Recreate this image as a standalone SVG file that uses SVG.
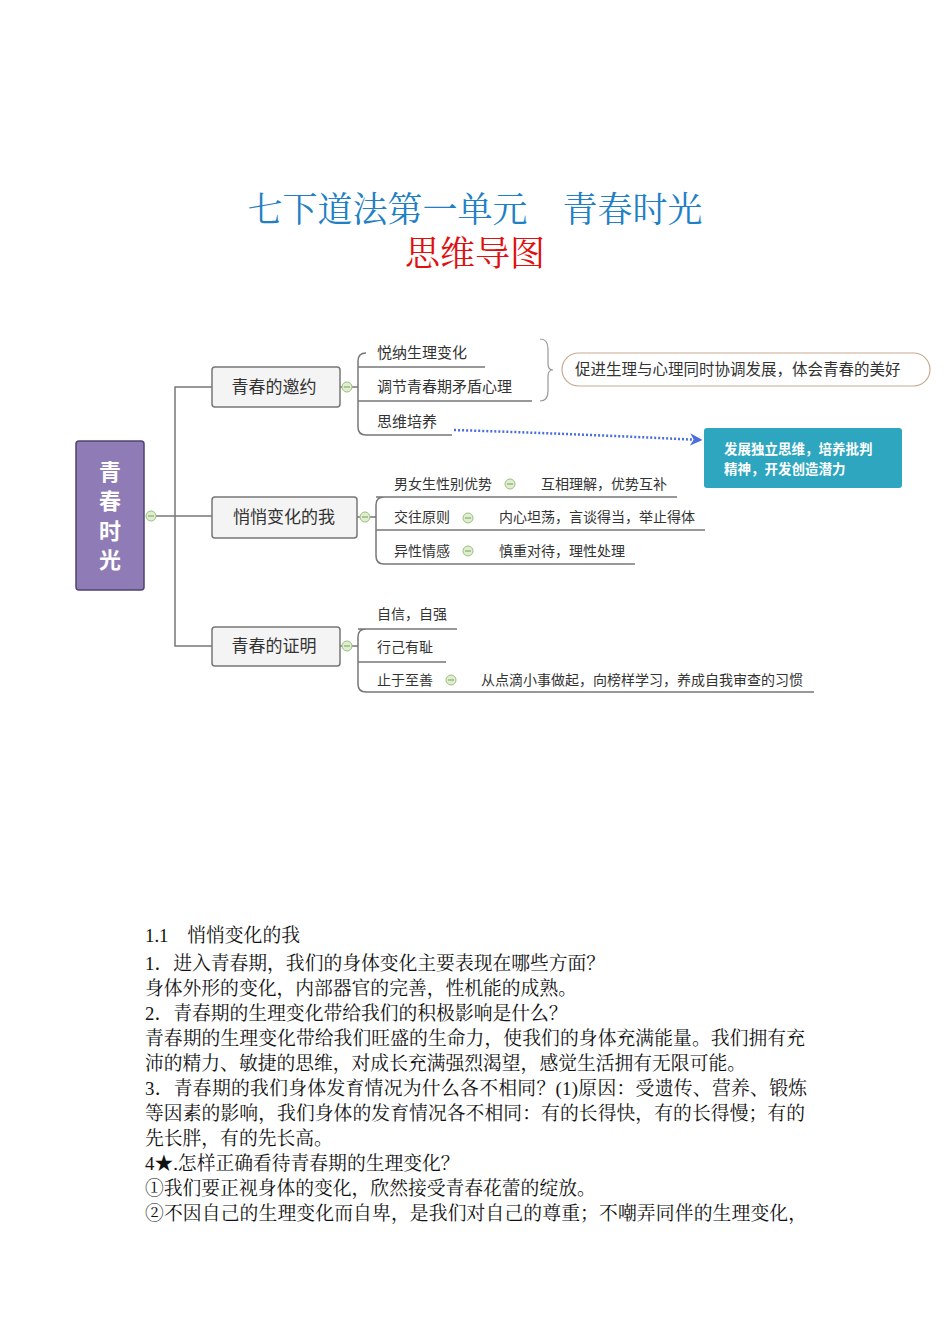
<svg xmlns="http://www.w3.org/2000/svg" width="950" height="1344" viewBox="0 0 950 1344">
<style>
.t{font-family:"Noto Sans CJK SC",sans-serif;fill:#333}
.s{font-family:"Liberation Serif","Noto Serif CJK SC","Noto Sans CJK SC",serif;fill:#111;font-size:18.8px}
.box{fill:#f4f4f4;stroke:#777;stroke-width:1.5}
.ln{fill:none;stroke:#777;stroke-width:1.5}
.c{fill:#dfeecf;stroke:#9cbf80;stroke-width:1}
</style>
<defs>
<marker id="ar" viewBox="0 0 10 10" refX="8" refY="5" markerWidth="5" markerHeight="5" orient="auto"><path d="M0,0L10,5L0,10L3,5z" fill="#4a6ee0"/></marker>
<g id="cc"><circle r="5" class="c"/><line x1="-3" y1="0" x2="3" y2="0" stroke="#7a9a60" stroke-width="1"/></g>
</defs>
<text x="475" y="222" text-anchor="middle" font-family="Liberation Serif,Noto Serif CJK SC,Noto Sans CJK SC,serif" font-size="35" fill="#1f80c4">七下道法第一单元　青春时光</text>
<text x="475" y="266" text-anchor="middle" font-family="Liberation Serif,Noto Serif CJK SC,Noto Sans CJK SC,serif" font-size="35" fill="#e01010">思维导图</text>
<g id="connectors">
<path class="ln" d="M156,516H212M183,387H175V646H212M175,387H212M175,646H212"/>
<path class="ln" d="M340,387H358M366,353Q358,353 358,361V427Q358,435 366,435H452M358,367H485M358,401H532"/>
<path class="ln" d="M357,517H376M384,497Q376,497 376,505V556Q376,564 384,564H635M376,497H677M376,530H705"/>
<path class="ln" d="M340,646H358M366,629Q358,629 358,637V684Q358,692 366,692H814M358,629H457M358,662H446"/>
<path d="M540,339Q548,339 548,349V364Q548,370 553,370Q548,370 548,376V391Q548,401 540,401" fill="none" stroke="#999" stroke-width="1.2"/>
<path d="M454,430Q580,434 700,440" fill="none" stroke="#4a6ee0" stroke-width="2.5" stroke-dasharray="2,2" marker-end="url(#ar)"/>
</g>
<g id="root"><rect x="76" y="441" width="68" height="149" rx="3" fill="#8f7bb5" stroke="#4f4470" stroke-width="1.5"/>
<g font-family="Noto Sans CJK SC,sans-serif" font-size="22" font-weight="bold" fill="#fff" text-anchor="middle"><text x="110" y="480">青</text><text x="110" y="509">春</text><text x="110" y="539">时</text><text x="110" y="568">光</text></g></g>
<use href="#cc" x="151" y="516"/>
<g id="n1"><rect class="box" x="212" y="367" width="128" height="40" rx="3"/><text class="t" x="274" y="393" font-size="17" text-anchor="middle">青春的邀约</text></g>
<use href="#cc" x="347" y="387"/>
<g id="n1a"><text class="t" x="377" y="358" font-size="15">悦纳生理变化</text></g>
<g id="n1b"><text class="t" x="377" y="392" font-size="15">调节青春期矛盾心理</text></g>
<g id="n1c"><text class="t" x="377" y="427" font-size="15">思维培养</text></g>
<g id="n1d"><rect x="562" y="353" width="368" height="33" rx="16.5" fill="#fff" stroke="#c8aa90" stroke-width="1.2"/><text class="t" x="575" y="375" font-size="15.5">促进生理与心理同时协调发展，体会青春的美好</text></g>
<g id="n1e"><rect x="704" y="428" width="198" height="60" rx="3" fill="#2ea6c0"/><text x="724" y="454" font-family="Noto Sans CJK SC,sans-serif" font-size="13.5" font-weight="bold" fill="#fff">发展独立思维，培养批判</text><text x="724" y="474" font-family="Noto Sans CJK SC,sans-serif" font-size="13.5" font-weight="bold" fill="#fff">精神，开发创造潜力</text></g>
<g id="n2"><rect class="box" x="212" y="497" width="145" height="41" rx="3"/><text class="t" x="284" y="523" font-size="17" text-anchor="middle">悄悄变化的我</text></g>
<use href="#cc" x="365" y="517"/>
<g id="n2a"><text class="t" x="394" y="489" font-size="14">男女生性别优势</text><use href="#cc" x="510" y="484"/><text class="t" x="541" y="489" font-size="14">互相理解，优势互补</text></g>
<g id="n2b"><text class="t" x="394" y="522" font-size="14">交往原则</text><use href="#cc" x="468" y="518"/><text class="t" x="499" y="522" font-size="14">内心坦荡，言谈得当，举止得体</text></g>
<g id="n2c"><text class="t" x="394" y="556" font-size="14">异性情感</text><use href="#cc" x="468" y="551"/><text class="t" x="499" y="556" font-size="14">慎重对待，理性处理</text></g>
<g id="n3"><rect class="box" x="212" y="627" width="128" height="39" rx="3"/><text class="t" x="274" y="652" font-size="17" text-anchor="middle">青春的证明</text></g>
<use href="#cc" x="347" y="646"/>
<g id="n3a"><text class="t" x="377" y="619" font-size="14">自信，自强</text></g>
<g id="n3b"><text class="t" x="377" y="652" font-size="14">行己有耻</text></g>
<g id="n3c"><text class="t" x="377" y="685" font-size="14">止于至善</text><use href="#cc" x="451" y="680"/><text class="t" x="481" y="685" font-size="14">从点滴小事做起，向榜样学习，养成自我审查的习惯</text></g>
<text class="s" x="145" y="942" font-size="20.5">1.1　悄悄变化的我</text>
<text class="s" x="145" y="970">1．进入青春期，我们的身体变化主要表现在哪些方面？</text>
<text class="s" x="145" y="995">身体外形的变化，内部器官的完善，性机能的成熟。</text>
<text class="s" x="145" y="1020">2．青春期的生理变化带给我们的积极影响是什么？</text>
<text class="s" x="145" y="1045" textLength="660">青春期的生理变化带给我们旺盛的生命力，使我们的身体充满能量。我们拥有充</text>
<text class="s" x="145" y="1070">沛的精力、敏捷的思维，对成长充满强烈渴望，感觉生活拥有无限可能。</text>
<text class="s" x="145" y="1095" textLength="662">3．青春期的我们身体发育情况为什么各不相同？(1)原因：受遗传、营养、锻炼</text>
<text class="s" x="145" y="1120" textLength="660">等因素的影响，我们身体的发育情况各不相同：有的长得快，有的长得慢；有的</text>
<text class="s" x="145" y="1145">先长胖，有的先长高。</text>
<text class="s" x="145" y="1170">4★.怎样正确看待青春期的生理变化？</text>
<text class="s" x="145" y="1195">①我们要正视身体的变化，欣然接受青春花蕾的绽放。</text>
<text class="s" x="145" y="1220" textLength="662">②不因自己的生理变化而自卑，是我们对自己的尊重；不嘲弄同伴的生理变化，</text>
</svg>
